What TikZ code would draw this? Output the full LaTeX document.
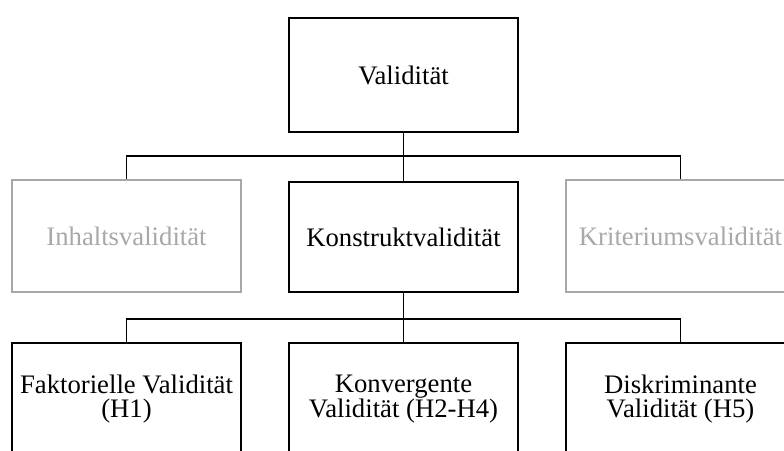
\documentclass[tikz,border=0pt]{standalone}
\usepackage{fontspec}
\setmainfont{Liberation Serif}
\usepackage{tikz}
\usetikzlibrary{positioning, calc}

\definecolor{greyline}{RGB}{168,168,168}

\tikzset{
    box/.style = {draw, line width = 1.1pt, minimum width = 4.58cm, minimum height = 2.24cm,
                  align = center, inner sep = 0pt, font = \fontsize{15.2}{14}\selectfont},
    greybox/.style = {box, draw = greyline, text = greyline, line width = 0.8pt},
    link/.style = {line width = 1.1pt}
}

\begin{document}
\begin{tikzpicture}[x = 0.02cm, y = -0.02cm]
                \useasboundingbox (0,0) rectangle (784,450);
                \clip (0,0) rectangle (784,450);
                % top level
                \node[box, minimum height = 2.28cm] (val) at (403.5,75) {Validität};
                % second level
                \node[greybox] (inhalt) at (126.5,236) {Inhaltsvalidität};
                \node[box, minimum height = 2.2cm] (konstrukt) at (403.5,237) {Konstruktvalidität};
                \node[greybox] (krit) at (680.5,236) {Kriteriumsvalidität};
                % third level
                \node[box] (fakt) at (126.5,399) {Faktorielle Validität\\(H1)};
                \node[box] (konv) at (403.5,399) {Konvergente\\Validität (H2-H4)};
                \node[box] (disk) at (680.5,399) {Diskriminante\\Validität (H5)};
                % connectors
                \coordinate (bus1) at (403.5,156);
                \coordinate (bus2) at (403.5,319);
                \draw[link] (val.south) -- (bus1) -- (konstrukt.north);
                \draw[link] (inhalt.north) |- (bus1) -| (krit.north);
                \draw[link] (konstrukt.south) -- (bus2) -- (konv.north);
                \draw[link] (fakt.north) |- (bus2) -| (disk.north);
            \end{tikzpicture}
\end{document}
